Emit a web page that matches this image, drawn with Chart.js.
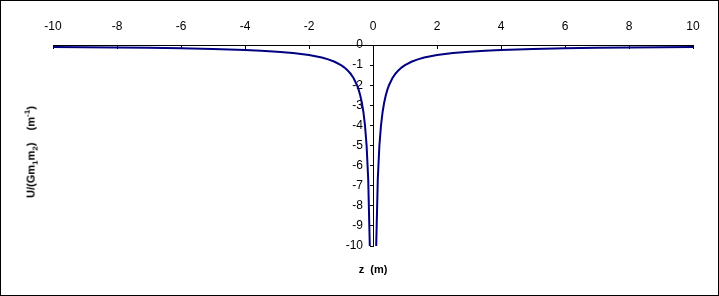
<!DOCTYPE html>
<html>
<head>
<meta charset="utf-8">
<script src="https://cdn.jsdelivr.net/npm/chart.js@4/dist/chart.umd.min.js"></script>
<style>
  body { margin: 0; background: #fff; }
  #wrap {
    position: relative; width: 719px; height: 296px;
    box-sizing: border-box; border: 1px solid #000; background: #fff;
  }
  #myChart { display: block; }
  .ttl {
    position: absolute; font-family: "Liberation Sans", Arial, sans-serif;
    font-size: 11px; font-weight: bold; color: #000; white-space: pre;
  }
  .ttl sub, .ttl sup { font-size: 8px; }
  #ytitle { left: 30px; top: 151px; transform: translate(-50%, -50%) rotate(-90deg); }
  #xtitle { left: 372px; top: 268px; transform: translate(-50%, -50%); }
</style>
</head>
<body>
<div id="wrap">
  <canvas id="myChart" width="717" height="294"></canvas>
  <div class="ttl" id="ytitle">U/(Gm<sub>1</sub>m<sub>2</sub>)    (m<sup>-1</sup>)</div>
  <div class="ttl" id="xtitle">z  (m)</div>
</div>
<script>

// DONNEES //

const zLeft = [-10, -9, -8, -7, -6, -5, -4.5, -4, -3.5, -3, -2.5, -2, -1.8, -1.6, -1.4, -1.2,
  -1, -0.9, -0.8, -0.7, -0.6, -0.5, -0.45, -0.4, -0.35, -0.3, -0.25, -0.2, -0.15, -0.1];
const uLeft = [-0.1, -0.111, -0.125, -0.143, -0.167, -0.2, -0.222, -0.25, -0.286, -0.333, -0.4, -0.5, -0.556, -0.625, -0.714, -0.833,
  -1, -1.111, -1.25, -1.429, -1.667, -2, -2.222, -2.5, -2.857, -3.333, -4, -5, -6.667, -10];

const zRight = [0.1, 0.15, 0.2, 0.25, 0.3, 0.35, 0.4, 0.45, 0.5, 0.6, 0.7, 0.8, 0.9, 1,
  1.2, 1.4, 1.6, 1.8, 2, 2.5, 3, 3.5, 4, 4.5, 5, 6, 7, 8, 9, 10];
const uRight = [-10, -6.667, -5, -4, -3.333, -2.857, -2.5, -2.222, -2, -1.667, -1.429, -1.25, -1.111, -1,
  -0.833, -0.714, -0.625, -0.556, -0.5, -0.4, -0.333, -0.286, -0.25, -0.222, -0.2, -0.167, -0.143, -0.125, -0.111, -0.1];

const xTicks = [-10, -8, -6, -4, -2, 0, 2, 4, 6, 8, 10];
const yTicks = [0, -1, -2, -3, -4, -5, -6, -7, -8, -9, -10];

const toPoints = (xs, ys) => xs.map((x, i) => ({ x: x, y: ys[i] }));


// GRAPHIQUE //

const ctx = document.getElementById('myChart');

new Chart(ctx, {
  type: 'scatter',
  data: {
    datasets: [
      { data: toPoints(zLeft, uLeft) },
      { data: toPoints(zRight, uRight) }
    ]
  },
  options: {
    responsive: false,
    animation: false,
    showLine: true,
    elements: {
      line: { borderColor: '#000080', borderWidth: 2, tension: 0 },
      point: { radius: 0, hoverRadius: 0 }
    },
    plugins: { legend: false, tooltip: false },
    layout: { padding: { left: 52, right: 25, top: 20, bottom: 49 } },
    scales: {
      x: {
        type: 'linear',
        position: 'top',
        min: -10, max: 10,
        afterFit: s => { s.height = 24; },
        afterBuildTicks: s => { s.ticks = xTicks.map(v => ({ value: v })); },
        grid: { drawOnChartArea: false, tickLength: -4, color: '#000', tickColor: '#000' },
        border: { color: '#000', width: 1 },
        ticks: {
          padding: 15,
          color: '#000',
          font: { family: 'Liberation Sans, Arial', size: 12 },
          maxRotation: 0
        }
      },
      y: {
        type: 'linear',
        position: { x: 0 },
        min: -10, max: 0,
        afterBuildTicks: s => { s.ticks = yTicks.map(v => ({ value: v })); },
        grid: { drawOnChartArea: false, tickLength: 3, color: '#000', tickColor: '#000' },
        border: { color: '#000', width: 1 },
        ticks: {
          color: '#000',
          font: { family: 'Liberation Sans, Arial', size: 12 },
          callback: v => v + '   '
        }
      }
    }
  }
});

</script>
</body>
</html>
